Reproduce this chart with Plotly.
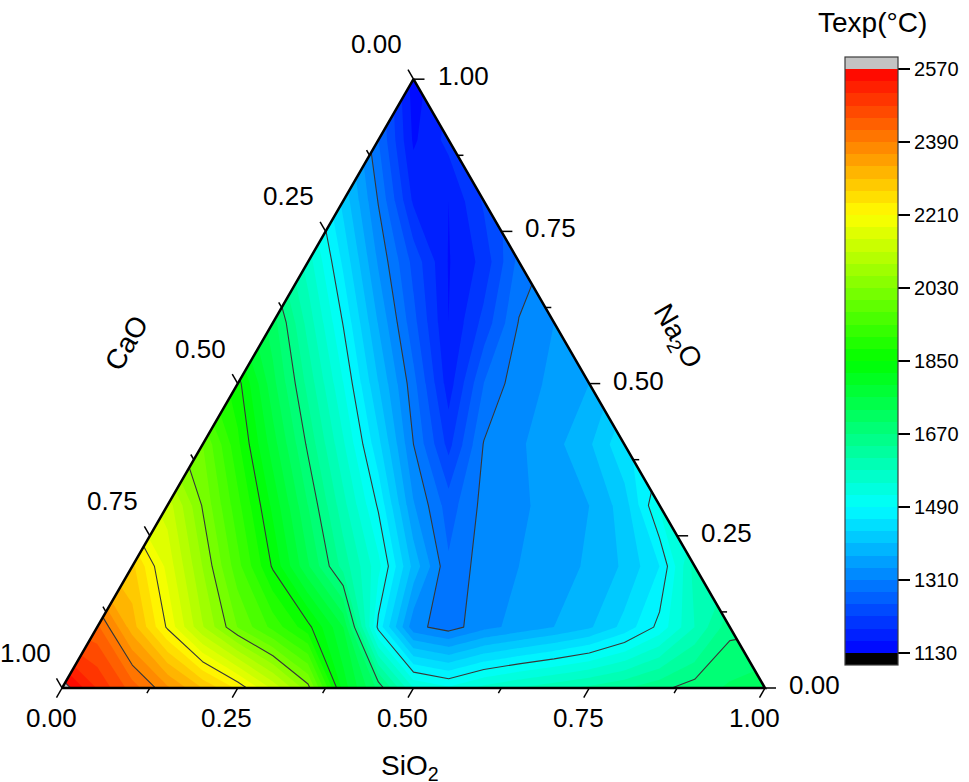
import math
import plotly.graph_objects as go

H = math.sqrt(3) / 2          # height of the unit ternary triangle
PX = 703.0                    # screen pixels per composition unit

# Na2O fraction of each row of the composition grid
na2o_levels = [0.0, 0.1, 0.2, 0.3, 0.4, 0.5, 0.6, 0.7, 0.8, 0.9, 1.0]
sio2_step = 0.05

# Texp (deg C) along each Na2O row, SiO2 = 0, 0.05, ... 1 - Na2O  (CaO is the rest)
t_na2o_00 = [2590, 2508, 2436, 2366, 2299, 2233, 2143, 2042, 1806, 1691, 1550,
             1525, 1560, 1582, 1600, 1618, 1637, 1662, 1685, 1705, 1720]
t_na2o_10 = [2428, 2314, 2205, 2093, 1999, 1930, 1860, 1760, 1480, 1320,
             1295, 1330, 1350, 1370, 1395, 1440, 1500, 1580, 1660]
t_na2o_20 = [2278, 2170, 2059, 1951, 1845, 1734, 1628, 1530, 1390, 1285,
             1325, 1340, 1355, 1375, 1405, 1460, 1593]
t_na2o_30 = [2137, 2027, 1920, 1812, 1700, 1591, 1485, 1343, 1265, 1320,
             1335, 1350, 1370, 1415, 1525]
t_na2o_40 = [2001, 1887, 1774, 1663, 1555, 1439, 1310, 1210, 1312, 1335,
             1360, 1395, 1455]
t_na2o_50 = [1862, 1740, 1630, 1521, 1401, 1290, 1175, 1280, 1330, 1345, 1370]
t_na2o_60 = [1714, 1598, 1488, 1368, 1260, 1160, 1230, 1312, 1340]
t_na2o_70 = [1565, 1454, 1336, 1240, 1158, 1200, 1290]
t_na2o_80 = [1421, 1308, 1185, 1160, 1225]
t_na2o_90 = [1281, 1155, 1200]
t_na2o_100 = [1145]

t_rows = [t_na2o_00, t_na2o_10, t_na2o_20, t_na2o_30, t_na2o_40, t_na2o_50,
          t_na2o_60, t_na2o_70, t_na2o_80, t_na2o_90, t_na2o_100]

# axis ticks
major_ticks = [0.0, 0.25, 0.5, 0.75, 1.0]
minor_ticks = [0.125, 0.375, 0.625, 0.875]
tick_text = ["0.00", "0.25", "0.50", "0.75", "1.00"]

# colour bar
t_low, t_high, t_step = 1130, 2570, 30
cbar_ticks = [1130, 1310, 1490, 1670, 1850, 2030, 2210, 2390, 2570]

FONT = "Liberation Sans, Arial, sans-serif"

W, HT = 969, 782
X0, Y0 = 62, 688              # pixel position of the CaO corner

# ---- ternary -> cartesian grid (x = SiO2 + Na2O/2, y = Na2O*sqrt(3)/2)
ncol = len(t_na2o_00)
x_grid = [round(c * sio2_step, 4) for c in range(ncol)]
y_grid = [n * H for n in na2o_levels]
z = []
for k, row in enumerate(t_rows):
    line = [None] * ncol
    for j, t in enumerate(row):
        line[k + j] = t
    z.append(line)


def rainbow(t):
    stops = [(0, 0, 255), (0, 255, 255), (0, 255, 0), (255, 255, 0), (255, 0, 0)]
    p = t * 4
    i = min(int(p), 3)
    f = p - i
    a, b = stops[i], stops[i + 1]
    return "rgb(%d,%d,%d)" % tuple(round(a[m] + (b[m] - a[m]) * f) for m in range(3))


nb = (t_high - t_low) // t_step
band_colors = [rainbow((k + 0.5) / nb) for k in range(nb)]
under, over = "rgb(0,0,0)", "rgb(195,195,195)"

# contour fill colours are sampled at (k+1)/(nb+1) for band k
nc = nb + 1
fill_scale = [[0, under]] + [[(k + 1) / nc, band_colors[k]] for k in range(nb)] + [[1, over]]

# stepped scale for the colour bar, one extra band at each end
cb_bands = [under] + band_colors + [over]
cb_scale = []
for j, col in enumerate(cb_bands):
    cb_scale.append([j / len(cb_bands), col])
    cb_scale.append([(j + 1) / len(cb_bands), col])

fig = go.Figure()

fig.add_trace(go.Contour(
    x=x_grid, y=y_grid, z=z,
    autocontour=False,
    contours=dict(start=t_low, end=t_high, size=t_step, coloring="fill", showlines=False),
    colorscale=fill_scale, zauto=False, zmin=t_low - t_step / 2, zmax=t_high + t_step / 2,
    line=dict(smoothing=0, width=0),
    showscale=False, hoverinfo="skip",
))

fig.add_trace(go.Contour(
    x=x_grid, y=y_grid, z=z,
    autocontour=False,
    contours=dict(start=1310, end=2570, size=180, coloring="none", showlines=True),
    line=dict(color="rgb(55,55,55)", width=1.1, smoothing=0),
    showscale=False, hoverinfo="skip",
))

# white masks outside the triangle
e = 0.03
fig.add_trace(go.Scatter(
    x=[-e, 0, 0.5, 0.5, -e, -e], y=[0, 0, H, H + e, H + e, 0],
    mode="lines", fill="toself", fillcolor="white", line=dict(width=0),
    hoverinfo="skip", showlegend=False,
))
fig.add_trace(go.Scatter(
    x=[1 + e, 1, 0.5, 0.5, 1 + e, 1 + e], y=[0, 0, H, H + e, H + e, 0],
    mode="lines", fill="toself", fillcolor="white", line=dict(width=0),
    hoverinfo="skip", showlegend=False,
))

# triangle frame
fig.add_trace(go.Scatter(
    x=[0, 1, 0.5, 0], y=[0, 0, H, 0], mode="lines",
    line=dict(color="black", width=2.5), hoverinfo="skip", showlegend=False,
))


def bottom_pt(v):
    return v, 0.0


def right_pt(v):
    return 1 - v / 2, v * H


def left_pt(v):
    return (1 - v) / 2, (1 - v) * H


axes = [(bottom_pt, (-0.5, -H)), (right_pt, (1.0, 0.0)), (left_pt, (-0.5, H))]
tx, ty = [], []
for pt, (dx, dy) in axes:
    for vals, ln in ((major_ticks, 11), (minor_ticks, 6)):
        for v in vals:
            x0, y0 = pt(v)
            tx += [x0, x0 + dx * ln / PX, None]
            ty += [y0, y0 + dy * ln / PX, None]
fig.add_trace(go.Scatter(
    x=tx, y=ty, mode="lines", line=dict(color="black", width=1.5),
    hoverinfo="skip", showlegend=False,
))

# colour bar carrier
fig.add_trace(go.Scatter(
    x=[None], y=[None], mode="markers", hoverinfo="skip", showlegend=False,
    marker=dict(
        color=[t_low], colorscale=cb_scale, cmin=t_low - t_step, cmax=t_high + t_step,
        showscale=True,
        colorbar=dict(
            thickness=53, thicknessmode="pixels", len=608, lenmode="pixels",
            x=845 / W, xanchor="left", xpad=0,
            y=1 - 361 / HT, yanchor="middle", ypad=0,
            tickvals=cbar_ticks, ticks="outside", ticklen=12, tickwidth=1.5, tickcolor="black",
            tickfont=dict(family=FONT, size=20, color="black"),
            outlinecolor="rgb(60,60,60)", outlinewidth=1.2,
        ),
    ),
))

annotations = []
tick_font = dict(family=FONT, size=26, color="black")
for v, txt in zip(major_ticks, tick_text):
    x0, y0 = bottom_pt(v)
    annotations.append(dict(x=x0, y=y0, text=txt, showarrow=False, font=tick_font,
                            xanchor="center", yanchor="middle", xshift=-11, yshift=-30))
    x0, y0 = right_pt(v)
    annotations.append(dict(x=x0, y=y0, text=txt, showarrow=False, font=tick_font,
                            xanchor="left", yanchor="middle", xshift=22, yshift=3))
    x0, y0 = left_pt(v)
    annotations.append(dict(x=x0, y=y0, text=txt, showarrow=False, font=tick_font,
                            xanchor="center", yanchor="middle", xshift=-37, yshift=35))

title_font = dict(family=FONT, size=28, color="black")
annotations += [
    dict(x=0.495, y=-0.1124, text="SiO<sub>2</sub>", showarrow=False, font=title_font),
    dict(x=0.0925, y=0.4908, text="CaO", textangle=-60, showarrow=False, font=title_font),
    dict(x=0.8734, y=0.4993, text="Na<sub>2</sub>O", textangle=60, showarrow=False, font=title_font),
    dict(x=872 / W, y=1 - 22 / HT, xref="paper", yref="paper", text="Texp(°C)",
         showarrow=False, font=title_font, xanchor="center", yanchor="middle"),
]

fig.update_layout(
    width=W, height=HT,
    margin=dict(l=0, r=0, t=0, b=0, autoexpand=False),
    paper_bgcolor="white", plot_bgcolor="white",
    xaxis=dict(range=[-X0 / PX, (W - X0) / PX], visible=False, fixedrange=True),
    yaxis=dict(range=[(Y0 - HT) / PX, Y0 / PX], visible=False, fixedrange=True),
    showlegend=False,
    annotations=annotations,
)

# drop the default 8px page margin so the figure fills the window exactly
fig.write_html("out.html", config={"displayModeBar": False},
               post_script="document.body.style.margin='0px';")
